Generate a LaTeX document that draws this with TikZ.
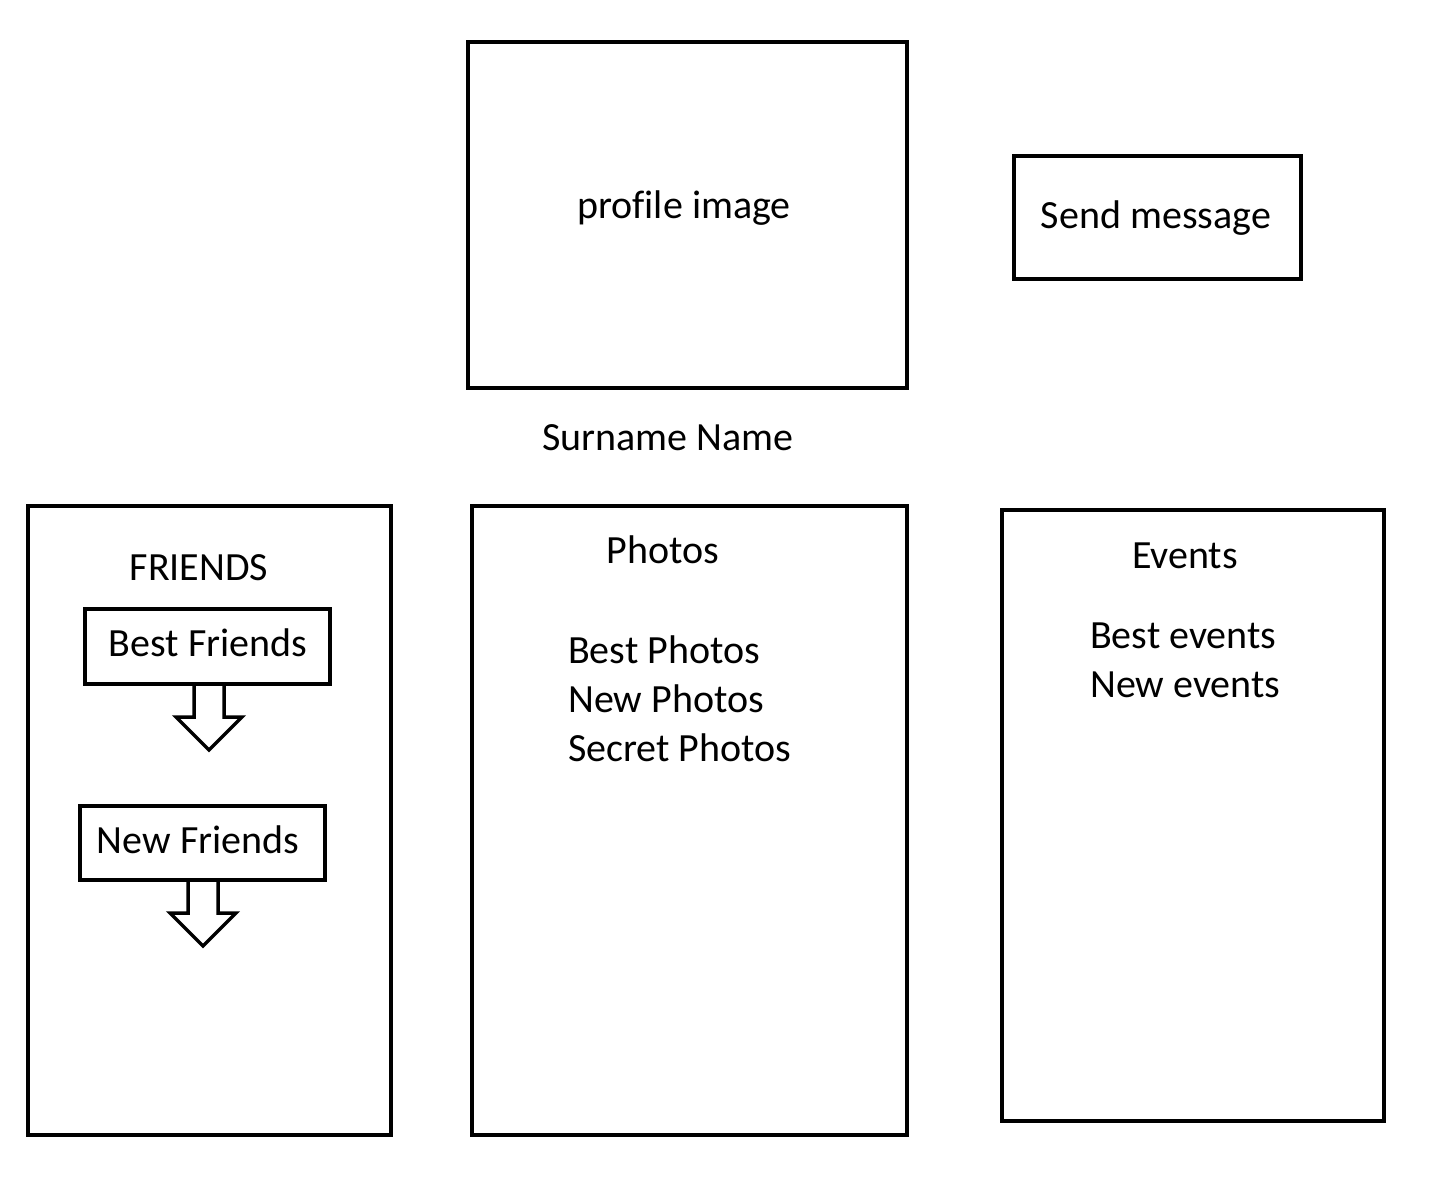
\documentclass[tikz,border=0pt]{standalone}
\usepackage{fontspec}
\setmainfont[Ligatures=NoCommon]{Carlito}
\begin{document}
\begin{tikzpicture}[x=1pt,y=-1pt,
  panel/.style={draw, line width=4pt, inner sep=0pt, outer sep=0pt, anchor=north west},
  txt/.style={inner sep=0pt, font=\fontsize{40}{48}\selectfont},
  downarrow/.pic={\draw[line width=3.5pt, line join=miter]
     (-15,0) -- (-15,33) -- (-33,33) -- (0,66) -- (33,33) -- (15,33) -- (15,0);}]
\useasboundingbox (0,0) rectangle (1452,1178);

% profile header
\node[panel, minimum width=439pt, minimum height=346pt] (profile) at (468,42) {};
\node[txt, anchor=base] (profiletxt) at (684,218) {profile image};
\node[txt, anchor=base] (name) at (668,450) {Surname Name};

\node[panel, minimum width=287pt, minimum height=123pt] (send) at (1014,156) {};
\node[txt, anchor=base] (sendtxt) at (1156,228) {Send message};

% friends column
\node[panel, minimum width=363pt, minimum height=629pt] (friends) at (28,506) {};
\node[txt, anchor=base] (friendstxt) at (199,580) {FRIENDS};
\node[panel, minimum width=245pt, minimum height=75pt] (best) at (85,609) {};
\node[txt, anchor=base] (besttxt) at (208,656) {Best Friends};
\pic at (209,684) {downarrow};
\node[panel, minimum width=245pt, minimum height=74pt] (new) at (80,806) {};
\node[txt, anchor=base] (newtxt) at (198,853) {New Friends};
\pic at (203,880) {downarrow};

% photos column
\node[panel, minimum width=435pt, minimum height=629pt] (photos) at (472,506) {};
\node[txt, anchor=base] (photostxt) at (663,563) {Photos};
\node[txt, anchor=base west] (p1) at (568,663) {Best Photos};
\node[txt, anchor=base west] (p2) at (568,712) {New Photos};
\node[txt, anchor=base west] (p3) at (568,761) {Secret Photos};

% events column
\node[panel, minimum width=382pt, minimum height=611pt] (events) at (1002,510) {};
\node[txt, anchor=base] (eventstxt) at (1185,568) {Events};
\node[txt, anchor=base west] (e1) at (1090,648) {Best events};
\node[txt, anchor=base west] (e2) at (1090,697) {New events};
\end{tikzpicture}
\end{document}
